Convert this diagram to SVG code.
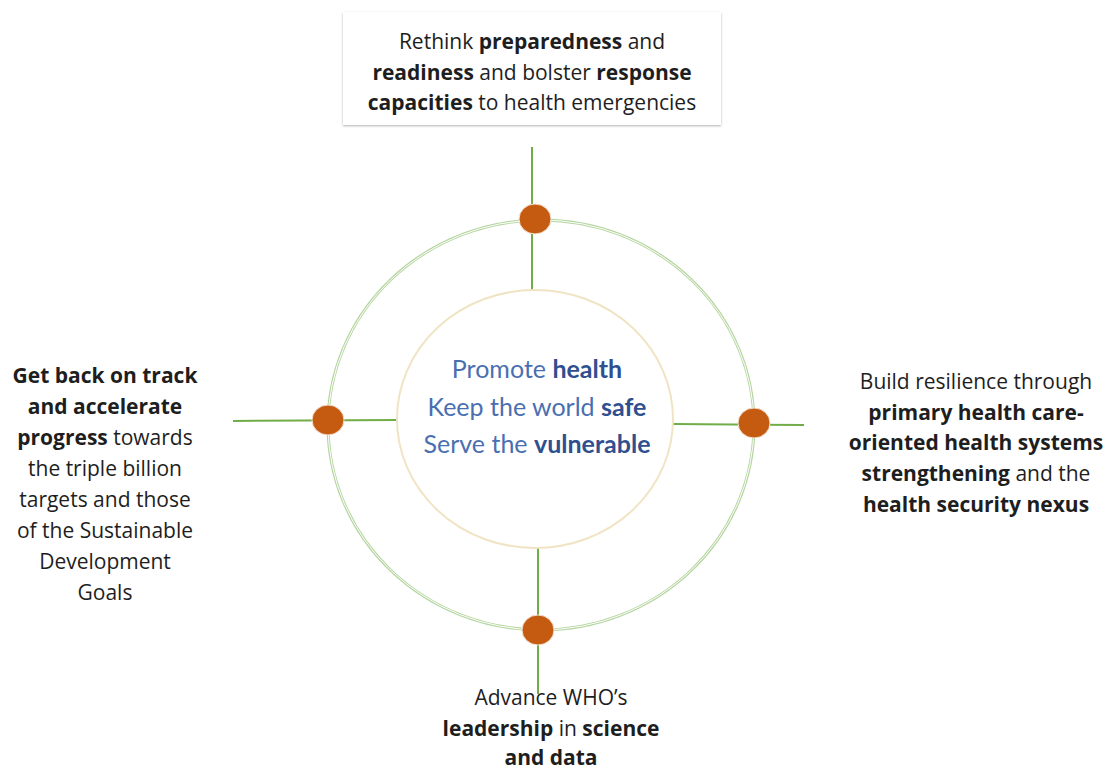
<svg xmlns="http://www.w3.org/2000/svg" width="1103" height="769" viewBox="0 0 1103 769">
<defs>
<style>
.t{font-family:"Open Sans",Lato,"Liberation Sans",sans-serif;font-size:21px;fill:#1e1e1e;text-anchor:middle}
.b{font-weight:bold}
.c{font-family:Lato,"Open Sans","Liberation Sans",sans-serif;font-size:25px;fill:#4a6fb0;text-anchor:middle}
.cb{fill:#2f4f8f;font-weight:bold}
.ln{stroke:#70ad47;stroke-width:2;fill:none}
.dot{fill:#c55a11;stroke:#f4e0d0;stroke-width:1}
</style>
<filter id="sh" x="-5%" y="-5%" width="110%" height="120%">
<feDropShadow dx="0" dy="1" stdDeviation="1" flood-color="#000" flood-opacity="0.3"/>
</filter>
</defs>
<rect width="1103" height="769" fill="#fff"/>
<g id="connectors">
<ellipse cx="541" cy="425" rx="213" ry="205" fill="none" stroke="#b5d5a0" stroke-width="3"/>
<ellipse cx="541" cy="425" rx="213" ry="205" fill="none" stroke="#fff" stroke-width="1"/>
<line class="ln" x1="532" y1="147" x2="532" y2="290"/>
<line class="ln" x1="233" y1="421" x2="398" y2="420"/>
<line class="ln" x1="673" y1="424" x2="804" y2="425"/>
<line class="ln" x1="538" y1="548" x2="538" y2="694"/>
</g>
<g id="center">
<ellipse cx="535" cy="419" rx="138" ry="129" fill="#fff" stroke="#f0e4c4" stroke-width="2"/>
<text class="c" x="537" y="378">Promote <tspan class="cb">health</tspan></text>
<text class="c" x="537" y="416">Keep the world <tspan class="cb">safe</tspan></text>
<text class="c" x="537" y="453">Serve the <tspan class="cb">vulnerable</tspan></text>
</g>
<g id="dot-top"><ellipse class="dot" cx="535" cy="219" rx="16" ry="15"/></g>
<g id="dot-left"><ellipse class="dot" cx="328" cy="420" rx="16" ry="15"/></g>
<g id="dot-right"><ellipse class="dot" cx="754" cy="423" rx="16" ry="15"/></g>
<g id="dot-bottom"><ellipse class="dot" cx="538" cy="630" rx="16" ry="15"/></g>
<g id="top">
<rect x="343" y="12" width="378" height="113" fill="#fff" filter="url(#sh)"/>
<text class="t" x="532" y="49">Rethink <tspan class="b">preparedness</tspan> and</text>
<text class="t" x="532" y="80"><tspan class="b">readiness</tspan> and bolster <tspan class="b">response</tspan></text>
<text class="t" x="532" y="110"><tspan class="b">capacities</tspan> to health emergencies</text>
</g>
<g id="left">
<text class="t" x="105" y="383"><tspan class="b">Get back on track</tspan></text>
<text class="t" x="105" y="414"><tspan class="b">and accelerate</tspan></text>
<text class="t" x="105" y="445"><tspan class="b">progress</tspan> towards</text>
<text class="t" x="105" y="476">the triple billion</text>
<text class="t" x="105" y="507">targets and those</text>
<text class="t" x="105" y="538">of the Sustainable</text>
<text class="t" x="105" y="569">Development</text>
<text class="t" x="105" y="600">Goals</text>
</g>
<g id="right">
<text class="t" x="976" y="389">Build resilience through</text>
<text class="t" x="976" y="420"><tspan class="b">primary health care-</tspan></text>
<text class="t" x="976" y="450"><tspan class="b">oriented health systems</tspan></text>
<text class="t" x="976" y="481"><tspan class="b">strengthening</tspan> and the</text>
<text class="t" x="976" y="512"><tspan class="b">health security nexus</tspan></text>
</g>
<g id="bottom">
<text class="t" x="551" y="705">Advance WHO’s</text>
<text class="t" x="551" y="736"><tspan class="b">leadership</tspan> in <tspan class="b">science</tspan></text>
<text class="t" x="551" y="765"><tspan class="b">and data</tspan></text>
</g>
</svg>
